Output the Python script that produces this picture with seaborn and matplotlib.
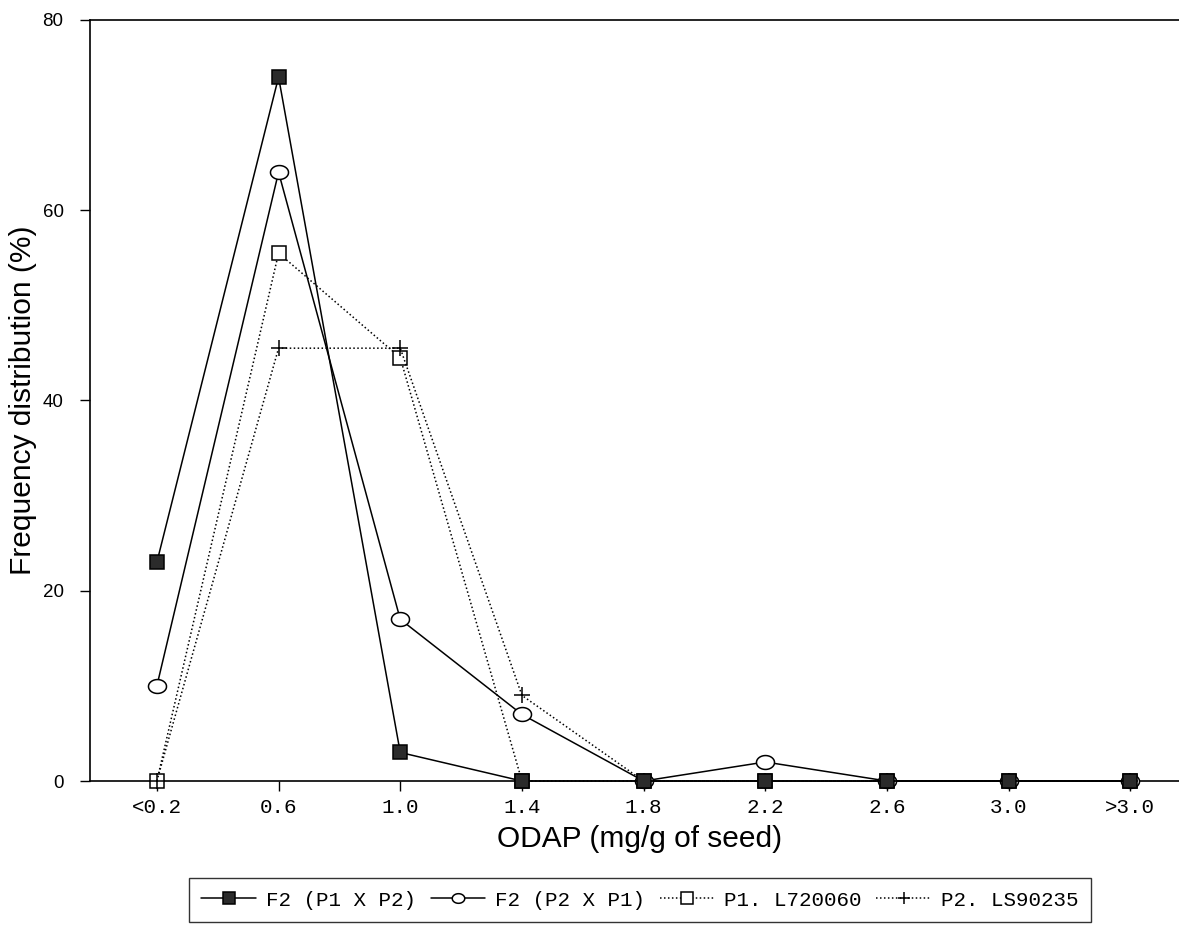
import matplotlib
matplotlib.use('Agg')
import matplotlib.pyplot as plt
import numpy as np
import pandas as pd
import seaborn as sns

odap = ['<0.2', '0.6', '1.0', '1.4', '1.8', '2.2', '2.6', '3.0', '>3.0']
f2_p1xp2 = [23, 74, 3, 0, 0, 0, 0, 0, 0]
f2_p2xp1 = [10, 64, 17, 7, 0, 2, 0, 0, 0]
p1_l720060 = [0, 55.5, 44.5, 0, 0, 0, 0, 0, 0]
p2_ls90235 = [0, 45.5, 45.5, 9, 0, 0, 0, 0, 0]
series_names = ['F2 (P1 X P2)', 'F2 (P2 X P1)', 'P1. L720060', 'P2. LS90235']
yticks = [0, 20, 40, 60, 80]

df = pd.DataFrame({
    'odap': odap * 4,
    'freq': f2_p1xp2 + f2_p2xp1 + p1_l720060 + p2_ls90235,
    'series': np.repeat(series_names, len(odap)),
})

sns.set_theme(style='white')
plt.rcParams['font.family'] = ['Liberation Sans', 'DejaVu Sans']
plt.rcParams['text.color'] = 'black'
plt.rcParams['axes.labelcolor'] = 'black'
plt.rcParams['xtick.color'] = 'black'
plt.rcParams['ytick.color'] = 'black'
mono = 'Liberation Mono'

# flat ellipse marker like the scanned original
t = np.linspace(0, 2 * np.pi, 60)
ellipse = np.column_stack([np.cos(t) * 1.3, np.sin(t)])

styles = {
    'F2 (P1 X P2)': dict(marker='s', ls='-', mfc='#2b2b2b', ms=9.5, z=6),
    'F2 (P2 X P1)': dict(marker=ellipse, ls='-', mfc='white', ms=13, z=4),
    'P1. L720060': dict(marker='s', ls=(0, (1, 1.6)), mfc='white', ms=10.5, z=3),
    'P2. LS90235': dict(marker='+', ls=(0, (1, 1.6)), mfc='none', ms=12, z=5),
}

fig = plt.figure(figsize=(11.79, 9.34), dpi=100)
ax = fig.add_axes([0.0763, 0.1638, 0.9237, 0.8148])

handles = []
for name in series_names:
    st = styles[name]
    sub = df[df['series'] == name]
    sns.lineplot(data=sub, x='odap', y='freq', ax=ax, sort=False, color='black',
                 linestyle=st['ls'], linewidth=1.1, marker=st['marker'],
                 markersize=st['ms'], markerfacecolor=st['mfc'],
                 markeredgecolor='black', markeredgewidth=1.1, zorder=st['z'],
                 clip_on=False)
    handles.append(ax.lines[-1])

ax.set_xlim(-0.55, 8.4)
ax.set_ylim(0, 80)
ax.set_yticks(yticks)
ax.set_yticklabels([str(v) for v in yticks], fontsize=13.5)
ax.set_xticks(range(len(odap)))
ax.set_xticklabels(odap, family=mono, fontsize=15)
ax.tick_params(axis='both', direction='out', length=7, width=1, color='black',
               bottom=True, left=True)
ax.tick_params(axis='x', pad=5)
ax.tick_params(axis='y', pad=12)

for side in ['left', 'top', 'bottom']:
    ax.spines[side].set_color('black')
    ax.spines[side].set_linewidth(1.2)
ax.spines['right'].set_visible(False)

ax.set_xlabel('ODAP (mg/g of seed)', fontsize=21.5)
ax.set_ylabel('Frequency distribution (%)', fontsize=21.5)
ax.xaxis.set_label_coords(0.505, -0.058)
ax.yaxis.set_label_coords(-0.049, 0.5)

leg = fig.legend(handles, series_names, loc='center', ncol=4,
                 bbox_to_anchor=(640 / 1179, 1 - 900 / 934), frameon=True,
                 fancybox=False, edgecolor='black', handlelength=2.6,
                 handletextpad=0.5, columnspacing=0.7, borderpad=0.6,
                 prop={'family': mono, 'size': 15})
leg.get_frame().set_linewidth(1.0)
for h in leg.legend_handles:
    h.set_markersize(9)

fig.savefig('out.png', dpi=100)
